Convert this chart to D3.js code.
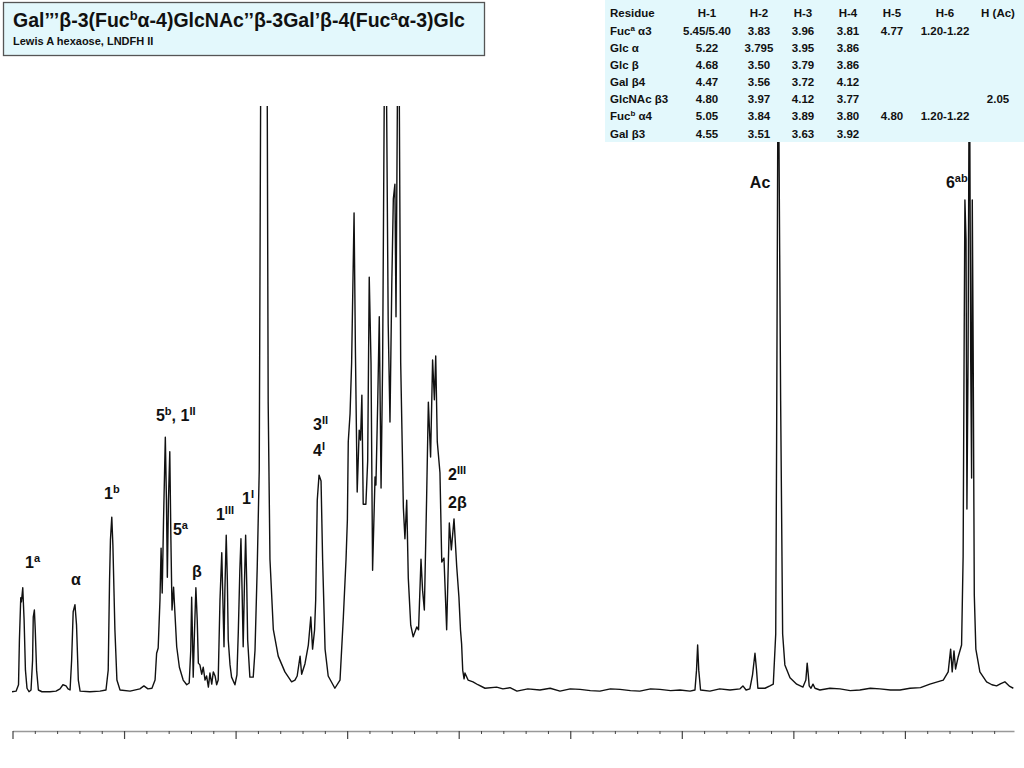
<!DOCTYPE html>
<html><head><meta charset="utf-8">
<script src="https://cdn.jsdelivr.net/npm/d3@7/dist/d3.min.js"></script>
<style>
body{margin:0;background:#fff;}
svg{display:block;}
text{font-family:"Liberation Sans",Arial,Helvetica,sans-serif;font-weight:bold;fill:#111;}
</style>
</head><body>
<svg id="chart" width="1024" height="768"></svg>
<script>
// ---- spectrum trace (chemical shift in ppm, intensity in arbitrary units, 100 = top of frame)
const shifts = [
5.502,5.484,5.473,5.469,5.463,5.460,5.454,5.448,5.442,5.435,
5.426,5.417,5.410,5.407,5.402,5.398,5.392,5.384,5.368,5.332,
5.305,5.287,5.274,5.260,5.251,5.242,5.235,5.228,5.220,5.213,
5.205,5.197,5.153,5.108,5.081,5.071,5.065,5.061,5.055,5.050,
5.041,5.032,5.018,4.973,4.929,4.911,4.893,4.875,4.861,4.854,
4.847,4.839,4.834,4.829,4.823,4.815,4.810,4.806,4.801,4.795,
4.790,4.785,4.778,4.772,4.764,4.752,4.735,4.719,4.708,4.701,
4.697,4.693,4.690,4.684,4.678,4.672,4.667,4.660,4.652,4.645,
4.637,4.630,4.622,4.615,4.607,4.600,4.592,4.585,4.578,4.574,
4.570,4.562,4.557,4.552,4.548,4.542,4.537,4.533,4.525,4.518,
4.503,4.494,4.488,4.481,4.476,4.471,4.466,4.460,4.455,4.450,
4.446,4.436,4.421,4.413,4.403,4.394,4.388,4.375,4.358,4.354,
4.346,4.331,4.309,4.279,4.249,4.234,4.224,4.211,4.204,4.189,
4.174,4.163,4.155,4.146,4.141,4.134,4.126,4.117,4.110,4.099,
4.085,4.055,4.032,4.017,4.005,3.999,3.995,3.987,3.980,3.969,
3.963,3.955,3.946,3.940,3.934,3.928,3.916,3.908,3.901,3.893,
3.886,3.875,3.871,3.863,3.856,3.848,3.841,3.834,3.828,3.823,
3.816,3.808,3.800,3.793,3.786,3.781,3.775,3.771,3.766,3.760,
3.748,3.741,3.733,3.726,3.715,3.704,3.688,3.680,3.669,3.662,
3.654,3.644,3.636,3.626,3.617,3.609,3.603,3.596,3.584,3.576,
3.566,3.554,3.542,3.533,3.521,3.509,3.499,3.492,3.487,3.482,
3.476,3.472,3.458,3.436,3.414,3.382,3.330,3.302,3.270,3.239,
3.190,3.136,3.090,3.046,3.000,2.956,2.910,2.867,2.820,2.777,
2.730,2.688,2.640,2.598,2.550,2.508,2.463,2.441,2.434,2.429,
2.424,2.416,2.374,2.330,2.284,2.239,2.226,2.212,2.195,2.183,
2.172,2.165,2.159,2.127,2.105,2.090,2.079,2.075,2.068,2.057,
2.048,2.038,2.015,1.985,1.957,1.944,1.938,1.933,1.929,1.921,
1.912,1.903,1.881,1.836,1.791,1.745,1.702,1.655,1.612,1.565,
1.522,1.477,1.430,1.388,1.328,
1.306,1.295,1.288,1.280,1.273,1.261,1.246,1.239,1.234,1.231,
1.226,1.222,1.217,1.211,1.205,1.201,1.198,1.194,1.189,1.182,
1.164,1.134,1.110,1.089,1.070,1.052,1.030,1.014
];
const intensity = [
-0.3,-0.2,0.9,8.6,15.8,15.1,17.5,12.0,3.4,0.3,
-0.3,0,5.1,12.5,13.7,10.3,3.4,0,-0.3,-0.3,
-0.2,0.2,0.9,0.7,0.2,0,5.1,13.4,14.6,11.1,
1.7,-0.2,-0.3,-0.2,0,3.4,18.8,25.7,29.6,24.8,
10.3,1.7,0,-0.2,0.2,0.7,0.2,0.3,1.7,6.3,
7.2,15.4,24.3,16.6,29.1,43.3,32.5,19.3,32.5,40.8,
25.7,13.7,17.6,13.2,7.4,3.9,1.7,0.9,1.2,6.8,
15.9,8.6,2.2,10.3,17.5,12.0,4.6,4.3,2.7,3.9,
1.7,2.4,0.5,2.9,1.0,3.1,2.4,0.9,1.7,8.6,
15.4,23.5,15.4,7.4,17.1,26.5,18.8,8.6,4.3,2.2,
0.9,2.6,9.8,20.5,25.9,17.1,7.4,18.8,26.5,18.0,
8.6,2.2,2.2,6.8,21.1,37.7,99.3,250,99.3,49.3,
22.4,10.4,5.8,3.1,1.4,1.7,2.4,5.8,2.7,4.5,
7.7,12.5,7.0,10.3,15.4,32.5,36.8,35.8,22.4,7.0,
2.4,0.3,1.7,12.5,22.4,29.1,42.5,47.3,56.0,81.7,
58.2,33.9,44.5,42.8,50.5,31.8,31.8,39.2,70.7,56.0,
20.5,36.5,35.1,49.3,63.9,34.6,56.0,99.7,160,99.7,
62.7,45.9,69.3,84.1,86.6,63.9,99.7,160,99.7,56.0,
31.2,25.9,32.5,19.2,11.1,9.1,10.8,10.3,22.4,17.1,
13.7,32.5,49.3,39.9,56.5,49.7,57.2,42.5,37.2,21.9,
22.6,10.3,28.6,24.0,29.3,21.2,15.9,10.3,7.9,3.4,
1.9,2.9,1.7,1.4,0.9,0.3,0.5,0.2,0.4,-0.2,
0.2,0,0.3,-0.2,0.2,0.1,-0.1,-0.2,0.2,0.1,
-0.1,-0.2,0.2,0.1,-0.1,0,-0.2,0,3.4,7.7,
3.4,0,-0.2,0.2,0,0.2,0.7,0,0.2,2.6,
6.3,3.4,0.3,0.3,0.7,1.0,9.6,42.8,115,49.5,
9.6,4.3,2.1,1.0,0.5,1.7,4.6,2.6,0.7,0.3,
1.0,0.3,0,0.3,0.2,-0.1,0,0.3,0.2,0,
0,0.3,0.4,1.0,1.7,
3.1,7.0,3.1,6.7,3.6,5.7,7.7,22.9,62.8,83.9,
77.1,31.0,56.2,115,56.2,36.3,83.9,58.2,16.3,7.0,
3.1,1.4,0.9,0.7,1.1,1.4,0.6,0.3
];

// ---- axis ticks (ppm)
const majorTicks = [5.5,5.0,4.5,4.0,3.5,3.0,2.5,2.0,1.5];
const minorTicks = [5.4,5.3,5.2,5.1,4.9,4.8,4.7,4.6,4.4,4.3,4.2,4.1,3.9,3.8,3.7,3.6,
  3.4,3.3,3.2,3.1,2.9,2.8,2.7,2.6,2.4,2.3,2.2,2.1,1.9,1.8,1.7,1.6,1.4,1.3,1.2,1.1];

// ---- peak labels: text, superscript, anchor shift (ppm), anchor level
const labelTexts  = ["1","α","1","5","5","β","1","1","3","4","2","2β","Ac","6"];
const labelSups   = ["a","","b","b, 1|II","a","","III","I","II","I","III","","","ab"];
const labelShifts = [5.444,5.238,5.090,4.857,4.781,4.695,4.588,4.471,4.153,4.153,3.548,3.548,2.195,1.316];
const labelLevels = [20.9,18.0,32.7,46.1,26.5,19.3,29.1,31.8,44.5,40.1,36.0,31.2,86.0,86.0];

// ---- assignment table
const tableHeader = ["Residue","H-1","H-2","H-3","H-4","H-5","H-6","H (Ac)"];
const residueNames = [["Fuc","a"," α3"],["Glc α"],["Glc β"],["Gal β4"],["GlcNAc β3"],["Fuc","b"," α4"],["Gal β3"]];
const colH1 = ["5.45/5.40","5.22","4.68","4.47","4.80","5.05","4.55"];
const colH2 = ["3.83","3.795","3.50","3.56","3.97","3.84","3.51"];
const colH3 = ["3.96","3.95","3.79","3.72","4.12","3.89","3.63"];
const colH4 = ["3.81","3.86","3.86","4.12","3.77","3.80","3.92"];
const colH5 = ["4.77","","","","","4.80",""];
const colH6 = ["1.20-1.22","","","","","1.20-1.22",""];
const colAc = ["","","","","2.05","",""];

const titleParts = [["Gal’’’β-3(Fuc",false],["b",true],["α-4)GlcNAc’’β-3Gal’β-4(Fuc",false],["a",true],["α-3)Glc",false]];
const subtitle = "Lewis A hexaose, LNDFH II";

// ================= drawing
const svg = d3.select("#chart");
const x = d3.scaleLinear().domain([5.5, 1.011]).range([12.5, 1014]);
const y = d3.scaleLinear().domain([0, 100]).range([690, 106]);

svg.append("defs").append("clipPath").attr("id","plotclip")
  .append("rect").attr("x",0).attr("y",106).attr("width",1024).attr("height",662);

const pts = shifts.map((s,i)=>[s,intensity[i]]);
const line = d3.line().x(d=>x(d[0])).y(d=>y(d[1]));
svg.append("path").datum(pts)
  .attr("clip-path","url(#plotclip)")
  .attr("d",line).attr("fill","none").attr("stroke","#111")
  .attr("stroke-width",1.4).attr("stroke-linejoin","round");

// axis
const axisY = 731;
const gMinor = svg.append("g").attr("transform",`translate(0,${axisY})`)
  .call(d3.axisBottom(x).tickValues(minorTicks).tickSize(3).tickSizeOuter(0).tickFormat(""));
gMinor.select(".domain").attr("stroke","#999").attr("stroke-width",1.6);
gMinor.selectAll(".tick line").attr("stroke","#444");
const gMajor = svg.append("g").attr("transform",`translate(0,${axisY})`)
  .call(d3.axisBottom(x).tickValues(majorTicks).tickSize(8).tickSizeOuter(0).tickFormat(""));
gMajor.select(".domain").remove();
gMajor.selectAll(".tick line").attr("stroke","#444").attr("stroke-width",1.2);

// peak labels
function addSup(t, sup, size, rise){
  if(!sup) return;
  const parts = sup.split("|");
  if(parts.length===2){
    const first = parts[0].split(",")[0];
    t.append("tspan").attr("font-size",size).attr("dy",-rise).text(first);
    t.append("tspan").attr("dy",rise).text(", 1");
    t.append("tspan").attr("font-size",size).attr("dy",-rise).text(parts[1]);
  } else {
    t.append("tspan").attr("font-size",size).attr("dy",-rise).text(sup);
  }
}
labelTexts.forEach((txt,i)=>{
  const t = svg.append("text").attr("x",x(labelShifts[i])).attr("y",y(labelLevels[i]))
    .attr("font-size",16);
  t.append("tspan").text(txt);
  addSup(t, labelSups[i], 11, 6);
});

// table
const tableG = svg.append("g");
tableG.append("rect").attr("x",605).attr("y",0).attr("width",419).attr("height",142).attr("fill","#e3f8fc");
const colCenters = [null,707,759,803,848,892,945,998];
const rowBase = [16.5,35,52.1,69.2,86.3,103.3,120.4,137.5];
const fs = 11.5;
tableHeader.forEach((h,j)=>{
  const t = tableG.append("text").attr("y",rowBase[0]).attr("font-size",fs).text(h);
  if(j===0) t.attr("x",610); else t.attr("x",colCenters[j]).attr("text-anchor","middle");
});
residueNames.forEach((r,i)=>{
  const t = tableG.append("text").attr("x",610).attr("y",rowBase[i+1]).attr("font-size",fs);
  t.append("tspan").text(r[0]);
  if(r.length>1){
    t.append("tspan").attr("font-size",8).attr("dy",-4).text(r[1]);
    t.append("tspan").attr("dy",4).text(r[2]);
  }
});
[colH1,colH2,colH3,colH4,colH5,colH6,colAc].forEach((col,j)=>{
  col.forEach((v,i)=>{
    if(!v) return;
    tableG.append("text").attr("x",colCenters[j+1]).attr("y",rowBase[i+1])
      .attr("text-anchor","middle").attr("font-size",fs).text(v);
  });
});

// title box
svg.append("rect").attr("x",3.5).attr("y",2.5).attr("width",481).attr("height",53)
  .attr("fill","#e3f8fc").attr("stroke","#555").attr("stroke-width",1.3);
const tt = svg.append("text").attr("x",13).attr("y",27).attr("font-size",19.5);
let raised = false;
titleParts.forEach(p=>{
  if(p[1]){ tt.append("tspan").attr("font-size",13).attr("dy",-7).text(p[0]); raised = true; }
  else { tt.append("tspan").attr("dy",raised ? 7 : 0).text(p[0]); raised = false; }
});
svg.append("text").attr("x",13).attr("y",45).attr("font-size",11).text(subtitle);
</script>
</body></html>
